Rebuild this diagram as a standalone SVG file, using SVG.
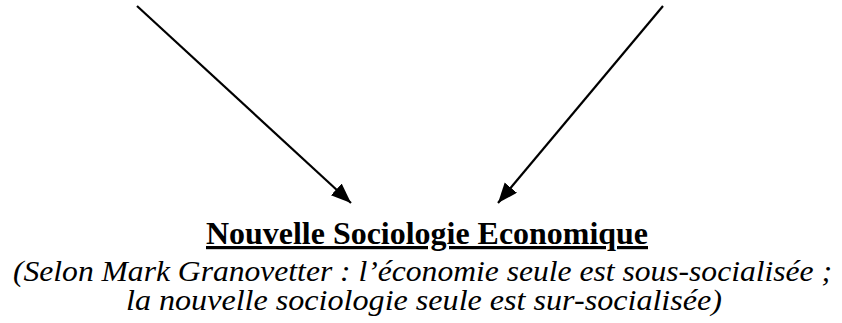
<svg xmlns="http://www.w3.org/2000/svg" width="842" height="323" viewBox="0 0 842 323">
<style>
.conn{stroke:#000;stroke-width:2.2;fill:none;marker-end:url(#ah)}
.title{font-family:"Liberation Serif",serif;font-weight:bold;font-size:32px;text-decoration:underline;fill:#000}
.sub{font-family:"Liberation Serif",serif;font-style:italic;font-size:29px;fill:#000}
</style>
<defs>
<marker id="ah" markerUnits="userSpaceOnUse" markerWidth="22" markerHeight="18" refX="20" refY="8" orient="auto">
<path d="M0,0 L20,8 L0,16 z" fill="#000"/>
</marker>
</defs>
<rect width="842" height="323" fill="#fff"/>
<g id="connectors">
<line class="conn" x1="137" y1="6" x2="351" y2="203"/>
<line class="conn" x1="663" y1="6" x2="498" y2="203"/>
</g>
<g id="nse">
<text class="title" x="206" y="244" textLength="442" lengthAdjust="spacingAndGlyphs">Nouvelle Sociologie Economique</text>
<text class="sub" x="13" y="281" textLength="819" lengthAdjust="spacingAndGlyphs">(Selon Mark Granovetter : l’économie seule est sous-socialisée ;</text>
<text class="sub" x="126" y="310" textLength="596" lengthAdjust="spacingAndGlyphs">la nouvelle sociologie seule est sur-socialisée)</text>
</g>
</svg>
